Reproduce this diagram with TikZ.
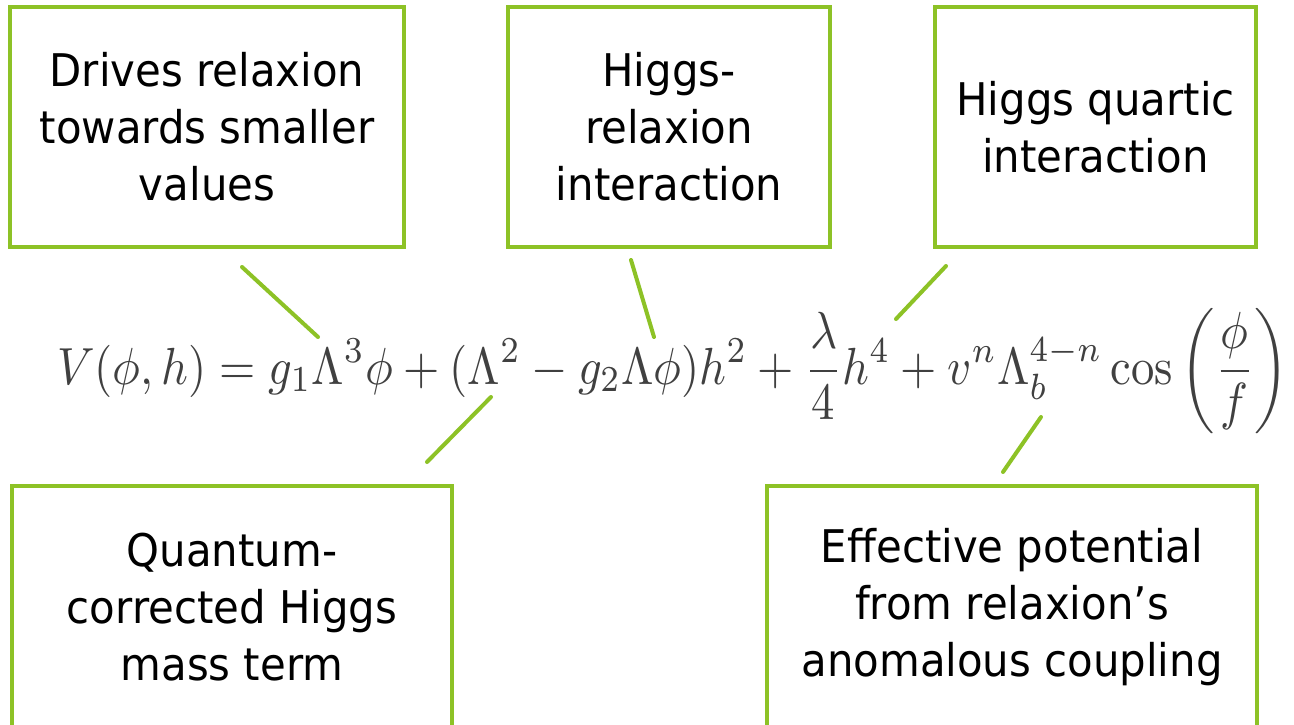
\documentclass[tikz,border=0pt]{standalone}
\usepackage[no-math]{fontspec}
\setmainfont{DejaVu Sans}[FakeStretch=0.93]
\usepackage{amsmath}
\usepackage{graphicx}
\definecolor{lgreen}{RGB}{141,194,38}
\definecolor{eqgray}{RGB}{64,64,64}
\begin{document}
\begin{tikzpicture}[x=1pt,y=-1pt]
\tikzset{
  box/.style={draw=lgreen, line width=4pt, align=center, inner sep=0pt,
    font=\fontsize{45}{57}\selectfont},
  link/.style={draw=lgreen, line width=4pt, line cap=round}
}
\useasboundingbox (0,0) rectangle (1294,724);
\fill[white] (0,0) rectangle (1294,724);
% boxes
\node[box, minimum width=394pt, minimum height=240pt] (drives) at (207,127)
  {Drives relaxion\\towards smaller\\values};
\node[box, minimum width=322pt, minimum height=240pt] (hrel) at (669,127)
  {Higgs-\\relaxion\\interaction};
\node[box, minimum width=321pt, minimum height=240pt] (hquart) at (1095.5,127)
  {Higgs quartic\\interaction};
\node[box, minimum width=440pt, minimum height=242pt] (quant) at (232,607)
  {Quantum-\\corrected Higgs\\mass term};
\node[box, minimum width=490pt, minimum height=242pt] (eff) at (1012,607)
  {Effective potential\\from relaxion’s\\anomalous coupling};
% equation
\node[anchor=base west, inner sep=0pt, text=eqgray] (eq) at (57,384)
  {\scalebox{1}[1.12]{\resizebox{1231pt}{!}{$\displaystyle V(\phi,h)=g_1\Lambda^3\phi+(\Lambda^2-g_2\Lambda\phi)h^2+\frac{\lambda}{4}h^4+v^n\Lambda_b^{4-n}\cos\left(\frac{\phi}{f}\right)$}}};
% connectors
\coordinate (c1a) at (242,267); \coordinate (c1b) at (318,337);
\coordinate (c2a) at (631,260); \coordinate (c2b) at (654,337);
\coordinate (c3a) at (946,266); \coordinate (c3b) at (896,319);
\coordinate (c4a) at (491,397); \coordinate (c4b) at (427,462);
\coordinate (c5a) at (1041,417); \coordinate (c5b) at (1003,472);
\draw[link] (c1a) -- (c1b);
\draw[link] (c2a) -- (c2b);
\draw[link] (c3a) -- (c3b);
\draw[link] (c4a) -- (c4b);
\draw[link] (c5a) -- (c5b);
\end{tikzpicture}
\end{document}
